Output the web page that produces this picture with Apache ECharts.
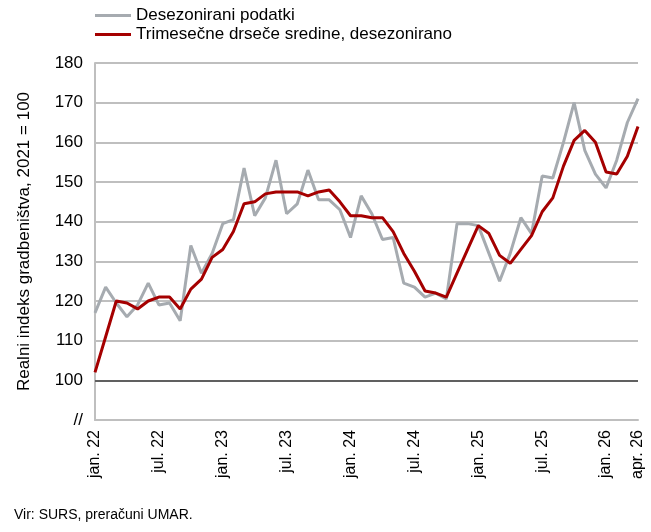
<!DOCTYPE html>
<html><head><meta charset="utf-8">
<script src="https://cdn.jsdelivr.net/npm/echarts@6/dist/echarts.min.js"></script>
<style>body{margin:0}#c{width:651px;height:532px}</style>
</head><body><div id="c"></div>
<script>
var months = ['jan.','feb.','mar.','apr.','maj.','jun.','jul.','avg.','sep.','okt.','nov.','dec.'];
var categories = [];
for (var y = 22; y <= 26; y++) for (var m = 0; m < 12; m++) if (categories.length < 52) categories.push(months[m] + ' ' + y);

var seasAdj = [117,123.5,119.5,116,119,124.5,119,119.5,115,134,127,132,139.5,140.5,153.5,141.5,146,155.5,142,144.5,153,145.5,145.5,143,136,146.5,142,135.5,136,124.5,123.5,121,122,120.5,139.5,139.5,139,132,125,132,141,137,151.5,151,160,170,158,152,148.5,155.5,165,171];
var movAvg = [102,111,120,119.5,118,120,121,121,118,123,125.5,131,133,137.5,144.5,145,147,147.5,147.5,147.5,146.5,147.5,148,145,141.5,141.5,141,141,137.5,132,127.5,122.5,122,121,127,133,139,137,131.5,129.5,133,136.5,142.5,146,154,160.5,163,160,152.5,152,156.5,164];

var font = 'Liberation Sans';
var chart = echarts.init(document.getElementById('c'));
chart.setOption({
  textStyle: {fontFamily: font},
  animation: false,
  legend: {
    left: 90, top: 2, orient: 'vertical', itemGap: 2, itemWidth: 36, itemHeight: 3,
    textStyle: {fontSize: 17, color: '#000', fontFamily: font},
    data: [{name: 'Desezonirani podatki', icon: 'rect'}, {name: 'Trimesečne drseče sredine, desezonirano', icon: 'rect'}]
  },
  graphic: [{type: 'text', left: 14, top: 508, style: {text: 'Vir: SURS, preračuni UMAR.', fontSize: 14, fill: '#000', fontFamily: font}}],
  grid: {left: 95, right: 13, top: 63, bottom: 112},
  xAxis: {
    type: 'category', data: categories, boundaryGap: false,
    axisLine: {lineStyle: {color: '#bfbfbf', width: 2}},
    axisTick: {show: false},
    axisLabel: {
      rotate: 90, fontSize: 16, color: '#000', margin: 10,
      interval: function (i) { return i % 6 === 0 || i === 51; }
    },
    splitLine: {show: false}
  },
  yAxis: {
    type: 'value', min: 90, max: 180, interval: 10,
    name: 'Realni indeks gradbeništva, 2021 = 100', nameLocation: 'middle', nameGap: 62,
    nameTextStyle: {fontSize: 17, color: '#000'},
    axisLine: {show: true, lineStyle: {color: '#bfbfbf', width: 2}},
    axisTick: {show: false},
    axisLabel: {fontSize: 17, color: '#000', margin: 12, formatter: function (v) { return v === 90 ? '//' : v; }},
    splitLine: {lineStyle: {color: '#bfbfbf', width: 2}}
  },
  series: [
    {name: 'Desezonirani podatki', type: 'line', data: seasAdj, symbol: 'none',
     lineStyle: {color: '#a6abb0', width: 3}, itemStyle: {color: '#a6abb0'},
     markLine: {silent: true, symbol: 'none', label: {show: false},
       lineStyle: {color: '#404040', width: 1.5, type: 'solid'}, data: [{yAxis: 100}]}},
    {name: 'Trimesečne drseče sredine, desezonirano', type: 'line', data: movAvg, symbol: 'none',
     lineStyle: {color: '#a50000', width: 3}, itemStyle: {color: '#a50000'}}
  ]
});
</script></body></html>
